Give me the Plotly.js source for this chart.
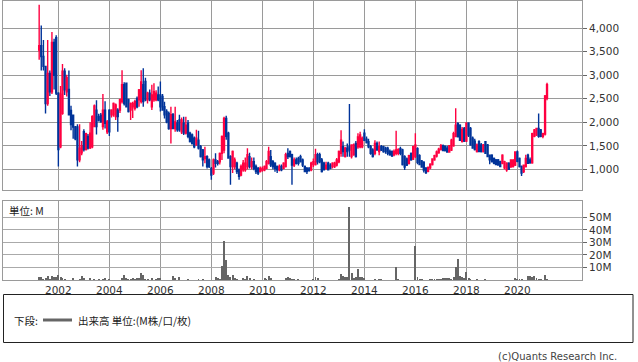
<!DOCTYPE html>
<html>
<head>
<meta charset="utf-8">
<script src="https://cdn.plot.ly/plotly-3.0.1.min.js"></script>
<style>html,body{margin:0;padding:0;background:#fff;}#chart{width:638px;height:362px;}</style>
</head>
<body>
<div id="chart"></div>
<script>
// Monthly candles, first month = April 2001 (240 months to March 2021)
const startYear = 2001, startMonth = 4;

const openP = [
 3540,3630,3400,3190,2400,3040,2650,3700,3800,
 2620,1480,2190,3090,2650,2700,2250,2150,1900,1900,1200,1350,
 1800,1420,1700,1460,1480,1910,2260,2120,2150,1910,2260,1800,
 2260,2160,2160,2120,2260,2260,2440,2800,2830,2480,2260,2330,
 2300,2510,2480,2440,2800,2870,2480,2620,2330,2480,2480,2580,
 2580,2550,2330,2230,2190,1870,2160,1870,1980,2050,1800,1980,
 1770,1980,1770,1730,1660,1520,1620,1480,1410,1230,1270,1200,
 1020,920,1200,1160,1160,1340,1410,2080,1770,1270,1060,1060,
 1130,990,880,990,990,1060,1270,1060,1160,1060,1020,950,
 980,990,1020,1130,1270,1160,1130,1060,990,1060,1020,1060,
 1340,1380,1310,1090,1200,1230,1270,1200,1060,1020,1010,990,
 1100,1100,1310,1310,1200,1130,1020,1130,1090,1060,1060,1090,
 1160,1340,1480,1270,1450,1480,1270,1310,1550,1480,1480,1480,
 1770,1640,1590,1480,1410,1340,1550,1380,1480,1480,1450,1450,
 1380,1380,1310,1340,1340,1440,1410,1270,1220,1130,1340,1220,
 1270,1440,1290,1180,1150,1020,960,1030,1100,1200,1280,1350,
 1420,1500,1480,1450,1370,1410,1500,1700,1970,1940,1590,1870,
 1600,1980,1870,1660,1600,1380,1590,1520,1380,1590,1520,1300,
 1300,1230,1200,1200,1160,1130,1030,990,1130,1060,1060,1090,
 1370,1230,1060,950,1060,1300,1200,1140,1700,1730,1870,1840,
 1700,1750,2510
];
const highP = [
 4500,4060,3750,3200,3750,3100,3920,3780,3850,
 2640,2770,3240,3150,3010,3100,2350,2160,1920,1960,1960,1600,
 1850,1780,1750,2000,2150,2380,2470,2180,2200,2600,2450,2050,
 2280,2280,2420,2400,2300,2500,3110,2850,2840,2500,2420,2440,
 2480,2550,2710,3110,3150,2950,2650,2700,2800,2830,2680,2760,
 2870,2600,2440,2280,2230,2330,2200,2330,2050,2160,2100,2120,
 2120,2050,1800,1760,1700,1840,1820,1520,1430,1480,1300,1230,
 1050,1230,1340,1200,1360,1720,2120,2140,1800,1300,1400,1250,
 1160,1020,1100,1200,1250,1450,1350,1250,1250,1100,1050,1060,
 1060,1080,1200,1480,1410,1200,1150,1080,1100,1100,1150,1350,
 1450,1400,1330,1250,1250,1270,1310,1230,1080,1050,1050,1160,
 1230,1440,1350,1350,1240,1160,1160,1160,1130,1150,1160,1240,
 1400,1830,1590,1480,1550,2390,1530,1550,1600,1770,1800,1700,
 1850,1700,1650,1520,1450,1620,1590,1590,1520,1500,1480,1480,
 1420,1400,1420,1820,1450,1480,1440,1300,1250,1310,1360,1500,
 1770,1470,1320,1200,1170,1050,1060,1130,1230,1310,1400,1460,
 1540,1530,1510,1500,1520,1650,1800,2300,2000,1960,1900,1900,
 2000,2000,1900,1700,1650,1550,1620,1560,1540,1600,1540,1310,
 1320,1250,1220,1220,1180,1320,1180,1150,1150,1210,1220,1380,
 1400,1250,1080,1100,1310,1330,1250,1780,1860,1880,2190,1860,
 1780,2580,2840
];
const lowP = [
 3330,3100,3100,2190,2350,2560,2600,2700,2580,
 1060,1450,2160,2580,2550,2150,1830,1650,1620,1060,1150,1300,
 1380,1400,1420,1430,1450,1900,1740,2020,1990,1840,1870,1750,
 1710,2100,2120,2050,1800,2200,2400,2360,2320,2210,2050,2090,
 2250,2300,2330,2400,2330,2450,2400,2450,2260,2440,2450,2450,
 2230,2250,2080,1980,1840,1550,1850,1800,1800,1800,1750,1730,
 1740,1660,1570,1530,1450,1500,1420,1250,1060,1130,1020,1030,
 780,880,1040,1080,1100,1200,1340,1630,1230,670,920,1000,
 900,780,850,950,950,1000,1020,1000,980,900,880,930,
 950,960,1000,1100,1050,1000,950,920,960,960,1000,1040,
 1220,1250,670,1050,1100,1080,1150,1050,940,900,950,960,
 1050,1080,1100,1130,930,980,990,980,1000,1020,1030,1060,
 1130,1270,1270,1250,1270,1270,1230,1290,1250,1440,1450,1450,
 1600,1550,1450,1310,1250,1300,1400,1300,1390,1350,1330,1300,
 1290,1260,1280,1300,1300,1300,1080,985,1070,1100,1180,1200,
 1240,1110,1090,1040,930,900,940,1000,1080,1180,1250,1330,
 1400,1390,1380,1350,1350,1390,1480,1680,1680,1600,1570,1580,
 1580,1690,1500,1440,1400,1360,1370,1360,1360,1330,1260,1110,
 1150,1110,1090,1080,1050,1110,1000,950,990,1030,1040,1070,
 1150,1040,860,920,1040,1120,1120,1120,1680,1710,1670,1680,
 1660,1720,2470
];
const closeP = [
 3630,3400,3190,2400,3040,2650,3700,3000,2620,
 1420,2600,3090,2690,2950,2160,1950,1900,1650,1200,1450,1500,
 1420,1760,1450,1770,2120,2350,1910,2050,2010,2260,1980,2010,
 1800,2260,2400,2370,2120,2480,2800,2400,2330,2230,2400,2400,
 2440,2330,2690,2860,2440,2480,2620,2480,2580,2650,2620,2480,
 2330,2260,2160,2010,1870,2160,1870,2010,1840,1840,2050,1770,
 1940,1700,1590,1550,1480,1660,1450,1270,1200,1270,1060,1060,
 880,1200,1130,1130,1340,1700,2080,1700,1240,1060,1380,1200,
 950,850,1060,1130,1130,1310,1060,1160,1020,950,920,1020,
 1020,1060,1160,1380,1090,1060,1020,990,1060,990,1130,1310,
 1270,1270,1090,1200,1130,1130,1160,1090,950,950,980,1130,
 1160,1310,1160,1160,950,990,1090,990,1020,1130,1130,1200,
 1380,1620,1380,1450,1380,1410,1520,1520,1270,1690,1730,1660,
 1620,1570,1480,1340,1270,1550,1410,1480,1410,1380,1380,1340,
 1310,1290,1380,1410,1420,1340,1100,1050,1090,1290,1200,1480,
 1520,1150,1100,1050,985,930,1040,1110,1220,1290,1370,1430,
 1500,1400,1400,1370,1500,1620,1760,1940,1690,1620,1850,1600,
 1980,1730,1520,1450,1420,1520,1380,1380,1520,1340,1270,1200,
 1160,1130,1100,1090,1060,1300,1160,1130,1000,1200,1190,1370,
 1170,1060,920,1090,1230,1130,1140,1760,1840,1870,1700,1700,
 1760,2560,2800
];
// Volume, millions of shares
const volumeM = [
 2.4,2.4,0.8,1.3,3.2,1.0,3.2,2.4,2.7,
 4.0,2.0,1.5,0.8,0.3,0.3,0.3,1.3,0.3,0.3,0.5,3.2,
 1.3,0.3,0.3,1.3,0.3,1.1,0.3,1.1,0.3,0.5,1.9,0.3,
 1.1,0.3,0.3,0.3,0.3,0.3,1.3,4.0,1.3,0.5,0.5,1.6,
 0.5,1.9,1.9,5.8,4.0,0.5,1.1,0.3,1.6,0.3,0.5,1.6,
 1.3,0.3,0.3,0.3,0.3,0.3,3.2,1.6,0.3,2.4,0.3,0.3,
 0.3,0.8,0.2,0.2,0.2,0.2,0.8,0.2,0.8,0.2,0.2,0.2,
 0.2,0.2,2.4,1.6,0.5,11.4,31.4,16.0,4.0,2.4,4.0,1.9,
 0.5,0.3,0.3,1.3,0.5,3.2,1.3,0.3,1.1,0.3,0.3,0.3,
 0.3,1.3,0.5,3.2,1.3,0.3,0.3,0.3,0.3,0.3,0.3,1.9,
 2.4,1.6,0.5,1.1,0.3,0.8,0.3,0.3,0.3,0.3,0.3,0.3,
 0.5,2.4,1.9,0.3,0.3,0.3,0.3,0.3,0.3,0.3,0.3,0.3,
 1.0,4.8,2.9,2.4,2.7,58.0,5.9,1.6,2.7,8.8,2.4,2.7,
 1.6,0.3,0.3,0.3,0.3,0.8,0.3,0.8,0.8,0.2,0.2,0.2,
 0.2,0.2,0.2,10.6,1.1,0.2,0.2,0.2,0.2,0.2,0.2,0.2,
 27.4,2.1,1.1,0.8,0.2,0.2,0.2,0.6,0.6,0.6,0.6,0.6,
 0.6,1.6,1.6,1.3,1.6,0.5,2.7,10.6,16.8,2.9,2.4,1.9,
 6.4,1.6,1.1,0.3,0.3,0.8,0.2,0.2,0.2,0.8,0.1,0.1,
 0.1,0.1,0.1,0.1,0.1,0.1,0.1,0.1,0.1,0.1,0.1,1.9,
 1.1,1.1,0.8,0.3,0.3,2.9,3.2,2.4,3.5,1.9,0.8,0.8,
 0.3,4.0,1.1
];
const priceTicks = [1000,1500,2000,2500,3000,3500,4000];
const volumeTicks = [10,20,30,40,50];
const tickYears = [2002,2004,2006,2008,2010,2012,2014,2016,2018,2020];

const dates = openP.map((_, i) => {
  const k = (startMonth - 1) + i;
  const y = startYear + Math.floor(k / 12);
  const m = (k % 12) + 1;
  return y + '-' + String(m).padStart(2, '0') + '-01';
});

const RED = '#ff0040', BLUE = '#003399';
const FONT = 'DejaVu Sans, Noto Sans CJK JP, sans-serif';
const CJK = 'Noto Sans CJK JP, DejaVu Sans, sans-serif';

const traces = [
  {
    type: 'candlestick', x: dates, open: openP, high: highP, low: lowP, close: closeP,
    xaxis: 'x', yaxis: 'y', whiskerwidth: 0,
    increasing: {line: {color: RED, width: 1.4}, fillcolor: RED},
    decreasing: {line: {color: BLUE, width: 1.4}, fillcolor: BLUE},
    hoverinfo: 'skip', showlegend: false
  },
  {
    type: 'bar', x: dates, y: volumeM, xaxis: 'x', yaxis: 'y2',
    marker: {color: '#666666', line: {width: 0}}, hoverinfo: 'skip', showlegend: false
  }
];

// pixel helpers for paper coords (plot area: x 3..582, y 1..280)
const px = v => (v - 3) / 579;
const py = v => (280 - v) / 279;

const layout = {
  width: 638, height: 362,
  margin: {l: 3, r: 56, t: 1, b: 82, pad: 0},
  paper_bgcolor: '#ffffff', plot_bgcolor: '#ffffff',
  showlegend: false, bargap: 0,
  font: {family: FONT, size: 10.5, color: '#333'},
  xaxis: {
    type: 'date', range: ['1999-10-31', '2022-07-15'], anchor: 'y2',
    tickvals: tickYears.map(y => y + '-01-01'), ticktext: tickYears.map(String),
    showgrid: true, gridcolor: '#9a9a9a', gridwidth: 1,
    showline: true, linecolor: '#9a9a9a', linewidth: 1, mirror: 'all',
    ticks: '', zeroline: false, rangeslider: {visible: false},
    tickfont: {family: FONT, size: 10.5, color: '#333'}, fixedrange: true
  },
  yaxis: {
    domain: [py(190), 1], range: [560, 4581], side: 'right',
    tickvals: priceTicks, ticktext: priceTicks.map(v => v.toLocaleString('en-US')),
    showgrid: true, gridcolor: '#9a9a9a', gridwidth: 1,
    showline: true, linecolor: '#9a9a9a', linewidth: 1, mirror: true,
    ticks: 'outside', ticklen: 4, tickcolor: '#666', zeroline: false,
    tickfont: {family: FONT, size: 10.5, color: '#333'}, fixedrange: true
  },
  yaxis2: {
    domain: [0, py(201)], range: [0, 63], side: 'right',
    tickvals: volumeTicks, ticktext: volumeTicks.map(v => v + 'M'),
    showgrid: true, gridcolor: '#aaaaaa', gridwidth: 1,
    showline: true, linecolor: '#9a9a9a', linewidth: 1, mirror: true,
    ticks: 'outside', ticklen: 4, tickcolor: '#666', zeroline: false,
    tickfont: {family: FONT, size: 10.5, color: '#333'}, fixedrange: true
  },
  shapes: [
    {type: 'rect', xref: 'paper', yref: 'paper', x0: px(3.5), x1: px(633), y0: py(342.5), y1: py(294.5),
     line: {color: '#222', width: 1}, fillcolor: 'rgba(0,0,0,0)'},
    {type: 'line', xref: 'paper', yref: 'paper', x0: px(43), x1: px(72), y0: py(320), y1: py(320),
     line: {color: '#666', width: 3}}
  ],
  annotations: [
    {xref: 'paper', yref: 'paper', x: px(7), y: py(210), xanchor: 'left', yanchor: 'middle',
     text: '単位: M', showarrow: false, font: {family: CJK, size: 10.5, color: '#222'}},
    {xref: 'paper', yref: 'paper', x: px(12), y: py(320), xanchor: 'left', yanchor: 'middle',
     text: '下段:', showarrow: false, font: {family: CJK, size: 10.5, color: '#222'}},
    {xref: 'paper', yref: 'paper', x: px(76), y: py(320), xanchor: 'left', yanchor: 'middle',
     text: '出来高 単位:(M株/口/枚)', showarrow: false, font: {family: CJK, size: 10.5, color: '#222'}},
    {xref: 'paper', yref: 'paper', x: px(619), y: py(356), xanchor: 'right', yanchor: 'middle',
     text: '(c)Quants Research Inc.', showarrow: false, font: {family: FONT, size: 10, color: '#444'}}
  ]
};

Plotly.newPlot('chart', traces, layout, {staticPlot: true, displayModeBar: false});
</script>
</body>
</html>
